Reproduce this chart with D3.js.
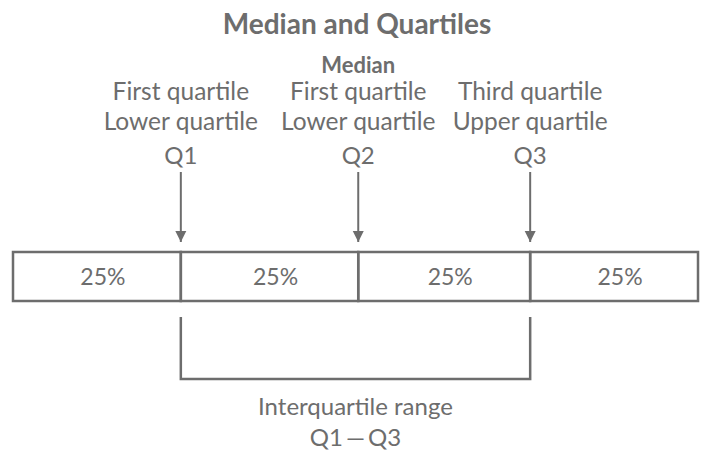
<!DOCTYPE html>
<html>
<head>
<meta charset="utf-8">
<script src="https://cdn.jsdelivr.net/npm/d3@7"></script>
<style>
  body { margin: 0; background: #fff; }
  text { font-family: Lato, "Open Sans", sans-serif; fill: #6d6d6d; }
</style>
</head>
<body>
<svg id="chart"></svg>
<script>
// boundaries of the four parts, as percent of the whole bar
var bounds = [0, 24.5, 50.4, 75.5, 100];
var partLabels = ['25%', '25%', '25%', '25%'];
var markers = ['Q1', 'Q2', 'Q3'];
var markerText = [
  ['First quartile', 'Lower quartile'],
  ['Median', 'First quartile', 'Lower quartile'],
  ['Third quartile', 'Upper quartile']
];
var rangeText = ['Interquartile range', 'Q1\u2009\u2014\u2009Q3'];
var title = 'Median and Quartiles';

var width = 706, height = 452;
var ink = '#6d6d6d';
var boxTop = 252, boxBottom = 301;

var svg = d3.select('#chart').attr('width', width).attr('height', height);

var x = d3.scaleLinear().domain([0, 100]).range([13, 698]);

svg.append('defs').append('marker')
  .attr('id', 'head').attr('viewBox', '0 0 10 10')
  .attr('refX', 10).attr('refY', 5)
  .attr('markerUnits', 'userSpaceOnUse')
  .attr('markerWidth', 11).attr('markerHeight', 12)
  .attr('orient', 'auto')
  .append('path').attr('d', 'M0,0L10,5L0,10Z').attr('fill', ink);

svg.append('text')
  .attr('x', 357).attr('y', 34)
  .attr('text-anchor', 'middle')
  .style('font-size', '28px').style('font-weight', 'bold')
  .text(title);

// the bar, one cell per quarter
var cells = d3.pairs(bounds);
svg.selectAll('.cell').data(cells).enter().append('rect')
  .attr('class', 'cell')
  .attr('x', function(d) { return x(d[0]); })
  .attr('width', function(d) { return x(d[1]) - x(d[0]); })
  .attr('y', boxTop).attr('height', boxBottom - boxTop)
  .attr('fill', 'none').attr('stroke', ink).attr('stroke-width', 2.5);

svg.selectAll('.pct').data(cells).enter().append('text')
  .attr('class', 'pct')
  .attr('x', function(d) { return (x(d[0]) + x(d[1])) / 2 + 6; })
  .attr('y', (boxTop + boxBottom) / 2 + 8)
  .attr('text-anchor', 'middle')
  .style('font-size', '23px')
  .text(function(d, i) { return partLabels[i]; });

var inner = bounds.slice(1, 4);

// arrows down to each quartile
svg.selectAll('.arrow').data(inner).enter().append('line')
  .attr('class', 'arrow')
  .attr('x1', function(d) { return x(d); }).attr('x2', function(d) { return x(d); })
  .attr('y1', 172).attr('y2', 242)
  .attr('stroke', ink).attr('stroke-width', 2)
  .attr('marker-end', 'url(#head)');

svg.selectAll('.qname').data(inner).enter().append('text')
  .attr('class', 'qname')
  .attr('x', function(d) { return x(d); })
  .attr('y', 164)
  .attr('text-anchor', 'middle')
  .style('font-size', '24px')
  .text(function(d, i) { return markers[i]; });

var groups = svg.selectAll('.desc').data(inner).enter().append('g')
  .attr('class', 'desc')
  .attr('transform', function(d) { return 'translate(' + x(d) + ',0)'; });

groups.each(function(d, i) {
  var lines = markerText[i];
  d3.select(this).selectAll('text').data(lines).enter().append('text')
    .attr('y', function(t, j) { return 130 - (lines.length - 1 - j) * 30 + (j === 0 && lines.length === 3 ? 3 : 0); })
    .attr('text-anchor', 'middle')
    .style('font-size', function(t, j) { return i === 1 && j === 0 ? '22px' : '24.5px'; })
    .style('font-weight', function(t, j) { return i === 1 && j === 0 ? 'bold' : 'normal'; })
    .text(function(t) { return t; });
});

// bracket under the middle half
var lo = x(bounds[1]), hi = x(bounds[3]);
svg.append('path')
  .attr('d', 'M' + lo + ',317V379H' + hi + 'V317')
  .attr('fill', 'none').attr('stroke', ink).attr('stroke-width', 2.5);

svg.selectAll('.range').data(rangeText).enter().append('text')
  .attr('class', 'range')
  .attr('x', (lo + hi) / 2)
  .attr('y', function(d, i) { return 415 + i * 31; })
  .attr('text-anchor', 'middle')
  .style('font-size', '24px')
  .text(function(d) { return d; });
</script>
</body>
</html>
